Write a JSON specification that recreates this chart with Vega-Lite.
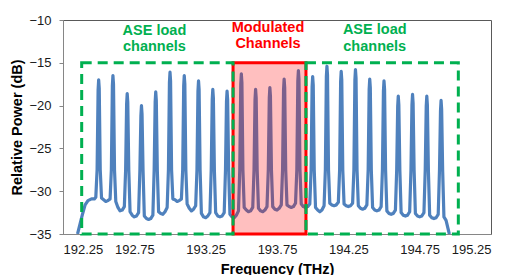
{
  "$schema": "https://vega.github.io/schema/vega-lite/v6.json",
  "width": 428,
  "height": 214,
  "autosize": {"type": "none"},
  "padding": {"left": 63, "top": 20, "right": 23, "bottom": 41},
  "background": "white",
  "config": {
    "font": "Liberation Sans",
    "view": {"stroke": "#595959", "strokeWidth": 1},
    "axis": {
      "grid": false,
      "domainColor": "#868686",
      "tickColor": "#868686",
      "labelFont": "Liberation Sans",
      "labelFontSize": 13,
      "labelColor": "#1a1a1a",
      "titleFont": "Liberation Sans",
      "titleFontSize": 14.5,
      "titleFontWeight": "bold",
      "titleColor": "#000000"
    }
  },
  "datasets": {
    "spectrum": [
      {"f":192.352,"p":-35.0},{"f":192.370,"p":-33.8},{"f":192.388,"p":-32.6},{"f":192.405,"p":-31.6},{"f":192.425,"p":-31.1},{"f":192.450,"p":-30.9},{"f":192.470,"p":-30.9},
      {"f":192.480,"p":-30.7},{"f":192.489,"p":-27.5},{"f":192.496,"p":-18.2},{"f":192.500,"p":-17.0},{"f":192.504,"p":-18.0},{"f":192.511,"p":-27.5},{"f":192.520,"p":-30.8},
      {"f":192.535,"p":-31.0},{"f":192.550,"p":-31.2},{"f":192.565,"p":-31.1},{"f":192.580,"p":-30.9},
      {"f":192.589,"p":-27.5},{"f":192.596,"p":-17.7},{"f":192.600,"p":-16.5},{"f":192.604,"p":-17.5},{"f":192.611,"p":-27.5},{"f":192.620,"p":-31.2},
      {"f":192.635,"p":-31.9},{"f":192.650,"p":-32.3},{"f":192.665,"p":-32.2},{"f":192.680,"p":-31.8},
      {"f":192.689,"p":-27.5},{"f":192.696,"p":-19.8},{"f":192.700,"p":-18.6},{"f":192.704,"p":-19.6},{"f":192.711,"p":-27.5},{"f":192.720,"p":-32.4},
      {"f":192.735,"p":-32.8},{"f":192.750,"p":-33.0},{"f":192.765,"p":-32.9},{"f":192.780,"p":-32.5},
      {"f":192.789,"p":-27.5},{"f":192.796,"p":-21.2},{"f":192.800,"p":-20.0},{"f":192.804,"p":-21.0},{"f":192.811,"p":-27.5},{"f":192.820,"p":-32.9},
      {"f":192.835,"p":-33.2},{"f":192.850,"p":-33.3},{"f":192.865,"p":-33.2},{"f":192.880,"p":-32.8},
      {"f":192.889,"p":-27.5},{"f":192.896,"p":-19.6},{"f":192.900,"p":-18.4},{"f":192.904,"p":-19.4},{"f":192.911,"p":-27.5},{"f":192.920,"p":-32.4},
      {"f":192.935,"p":-32.6},{"f":192.950,"p":-32.7},{"f":192.965,"p":-32.4},{"f":192.980,"p":-31.9},
      {"f":192.989,"p":-27.5},{"f":192.996,"p":-17.3},{"f":193.000,"p":-16.1},{"f":193.004,"p":-17.1},{"f":193.011,"p":-27.5},{"f":193.020,"p":-30.9},
      {"f":193.035,"p":-31.0},{"f":193.050,"p":-31.2},{"f":193.065,"p":-31.1},{"f":193.080,"p":-30.9},
      {"f":193.089,"p":-27.5},{"f":193.096,"p":-17.7},{"f":193.100,"p":-16.5},{"f":193.104,"p":-17.5},{"f":193.111,"p":-27.5},{"f":193.120,"p":-31.5},
      {"f":193.135,"p":-32.0},{"f":193.150,"p":-32.3},{"f":193.165,"p":-32.1},{"f":193.180,"p":-31.7},
      {"f":193.189,"p":-27.5},{"f":193.196,"p":-18.3},{"f":193.200,"p":-17.1},{"f":193.204,"p":-18.1},{"f":193.211,"p":-27.5},{"f":193.220,"p":-32.6},
      {"f":193.235,"p":-33.0},{"f":193.250,"p":-33.1},{"f":193.265,"p":-32.9},{"f":193.280,"p":-32.5},
      {"f":193.289,"p":-27.5},{"f":193.296,"p":-19.3},{"f":193.300,"p":-18.1},{"f":193.304,"p":-19.1},{"f":193.311,"p":-27.5},{"f":193.320,"p":-32.5},
      {"f":193.335,"p":-32.9},{"f":193.350,"p":-33.0},{"f":193.365,"p":-32.9},{"f":193.380,"p":-32.5},
      {"f":193.389,"p":-27.5},{"f":193.396,"p":-19.5},{"f":193.400,"p":-18.3},{"f":193.404,"p":-19.3},{"f":193.411,"p":-27.5},{"f":193.420,"p":-32.7},
      {"f":193.435,"p":-33.0},{"f":193.450,"p":-33.1},{"f":193.465,"p":-32.8},{"f":193.480,"p":-32.3},
      {"f":193.489,"p":-27.5},{"f":193.496,"p":-17.5},{"f":193.500,"p":-16.3},{"f":193.504,"p":-17.3},{"f":193.511,"p":-27.5},{"f":193.520,"p":-31.9},
      {"f":193.535,"p":-32.2},{"f":193.550,"p":-32.4},{"f":193.565,"p":-32.3},{"f":193.580,"p":-31.9},
      {"f":193.589,"p":-27.5},{"f":193.596,"p":-19.3},{"f":193.600,"p":-18.1},{"f":193.604,"p":-19.1},{"f":193.611,"p":-27.5},{"f":193.620,"p":-32.0},
      {"f":193.635,"p":-32.3},{"f":193.650,"p":-32.4},{"f":193.665,"p":-32.2},{"f":193.680,"p":-31.8},
      {"f":193.689,"p":-27.5},{"f":193.696,"p":-19.1},{"f":193.700,"p":-17.9},{"f":193.704,"p":-18.9},{"f":193.711,"p":-27.5},{"f":193.720,"p":-31.8},
      {"f":193.735,"p":-32.1},{"f":193.750,"p":-32.2},{"f":193.765,"p":-32.0},{"f":193.780,"p":-31.6},
      {"f":193.789,"p":-27.5},{"f":193.796,"p":-18.1},{"f":193.800,"p":-16.9},{"f":193.804,"p":-17.9},{"f":193.811,"p":-27.5},{"f":193.820,"p":-31.6},
      {"f":193.835,"p":-31.8},{"f":193.850,"p":-31.9},{"f":193.865,"p":-31.8},{"f":193.880,"p":-31.4},
      {"f":193.889,"p":-27.5},{"f":193.896,"p":-17.1},{"f":193.900,"p":-15.9},{"f":193.904,"p":-16.9},{"f":193.911,"p":-27.5},{"f":193.920,"p":-31.5},
      {"f":193.935,"p":-31.8},{"f":193.950,"p":-31.9},{"f":193.965,"p":-31.8},{"f":193.980,"p":-31.5},
      {"f":193.989,"p":-27.5},{"f":193.996,"p":-17.8},{"f":194.000,"p":-16.6},{"f":194.004,"p":-17.6},{"f":194.011,"p":-27.5},{"f":194.020,"p":-31.9},
      {"f":194.035,"p":-32.2},{"f":194.050,"p":-32.4},{"f":194.065,"p":-32.2},{"f":194.080,"p":-31.7},
      {"f":194.089,"p":-27.5},{"f":194.096,"p":-16.6},{"f":194.100,"p":-15.4},{"f":194.104,"p":-16.4},{"f":194.111,"p":-27.5},{"f":194.120,"p":-31.4},
      {"f":194.135,"p":-31.6},{"f":194.150,"p":-31.7},{"f":194.165,"p":-31.6},{"f":194.180,"p":-31.3},
      {"f":194.189,"p":-27.5},{"f":194.196,"p":-17.2},{"f":194.200,"p":-16.0},{"f":194.204,"p":-17.0},{"f":194.211,"p":-27.5},{"f":194.220,"p":-31.5},
      {"f":194.235,"p":-31.7},{"f":194.250,"p":-31.8},{"f":194.265,"p":-31.7},{"f":194.280,"p":-31.4},
      {"f":194.289,"p":-27.5},{"f":194.296,"p":-17.0},{"f":194.300,"p":-15.8},{"f":194.304,"p":-16.8},{"f":194.311,"p":-27.5},{"f":194.320,"p":-31.7},
      {"f":194.335,"p":-32.0},{"f":194.350,"p":-32.1},{"f":194.365,"p":-32.0},{"f":194.380,"p":-31.6},
      {"f":194.389,"p":-27.5},{"f":194.396,"p":-18.1},{"f":194.400,"p":-16.9},{"f":194.404,"p":-17.9},{"f":194.411,"p":-27.5},{"f":194.420,"p":-31.9},
      {"f":194.435,"p":-32.2},{"f":194.450,"p":-32.3},{"f":194.465,"p":-32.2},{"f":194.480,"p":-31.8},
      {"f":194.489,"p":-27.5},{"f":194.496,"p":-18.3},{"f":194.500,"p":-17.1},{"f":194.504,"p":-18.1},{"f":194.511,"p":-27.5},{"f":194.520,"p":-32.3},
      {"f":194.535,"p":-32.6},{"f":194.550,"p":-32.7},{"f":194.565,"p":-32.6},{"f":194.580,"p":-32.2},
      {"f":194.589,"p":-27.5},{"f":194.596,"p":-20.1},{"f":194.600,"p":-18.9},{"f":194.604,"p":-19.9},{"f":194.611,"p":-27.5},{"f":194.620,"p":-32.5},
      {"f":194.635,"p":-32.8},{"f":194.650,"p":-32.9},{"f":194.665,"p":-32.8},{"f":194.680,"p":-32.4},
      {"f":194.689,"p":-27.5},{"f":194.696,"p":-19.9},{"f":194.700,"p":-18.7},{"f":194.704,"p":-19.7},{"f":194.711,"p":-27.5},{"f":194.720,"p":-32.6},
      {"f":194.735,"p":-32.9},{"f":194.750,"p":-33.0},{"f":194.765,"p":-32.9},{"f":194.780,"p":-32.5},
      {"f":194.789,"p":-27.5},{"f":194.796,"p":-20.1},{"f":194.800,"p":-18.9},{"f":194.804,"p":-19.9},{"f":194.811,"p":-27.5},{"f":194.820,"p":-32.8},
      {"f":194.835,"p":-33.1},{"f":194.850,"p":-33.2},{"f":194.865,"p":-33.1},{"f":194.880,"p":-32.7},
      {"f":194.889,"p":-27.5},{"f":194.896,"p":-20.6},{"f":194.900,"p":-19.4},{"f":194.904,"p":-20.4},{"f":194.911,"p":-27.5},{"f":194.920,"p":-33.0},
      {"f":194.935,"p":-33.4},{"f":194.948,"p":-34.3},{"f":194.958,"p":-35.0}
    ],
    "redbox": [{"x1": 193.442, "x2": 193.953, "y1": -35, "y2": -15}],
    "greenbox": [
      {"x1": 192.381, "x2": 193.442, "y1": -35, "y2": -15},
      {"x1": 193.953, "x2": 195.021, "y1": -35, "y2": -15}
    ],
    "labels": [
      {"f": 192.891, "p": -11.29, "t": "ASE load", "g": "ase"},
      {"f": 192.891, "p": -13.15, "t": "channels", "g": "ase"},
      {"f": 193.687, "p": -10.97, "t": "Modulated", "g": "mod"},
      {"f": 193.687, "p": -12.80, "t": "Channels", "g": "mod"},
      {"f": 194.435, "p": -11.17, "t": "ASE load", "g": "ase"},
      {"f": 194.435, "p": -13.12, "t": "channels", "g": "ase"}
    ]
  },
  "layer": [
    {
      "data": {"name": "spectrum"},
      "mark": {"type": "line", "color": "#4F81BD", "strokeWidth": 3.2, "clip": true, "strokeJoin": "round"},
      "encoding": {
        "x": {
          "field": "f", "type": "quantitative",
          "scale": {"domain": [192.25, 195.25], "nice": false, "zero": false},
          "axis": {
            "title": "Frequency (THz)",
            "values": [192.25, 192.75, 193.25, 193.75, 194.25, 194.75, 195.25],
            "format": ".2f",
            "ticks": false,
            "labelPadding": 9,
            "titlePadding": 6
          }
        },
        "y": {
          "field": "p", "type": "quantitative",
          "scale": {"domain": [-35, -10], "nice": false, "zero": false},
          "axis": {
            "title": "Relative Power (dB)",
            "values": [-35, -30, -25, -20, -15, -10],
            "tickSize": 4,
            "labelPadding": 8,
            "titlePadding": 4
          }
        }
      }
    },
    {
      "data": {"name": "redbox"},
      "mark": {"type": "rect", "fill": "#FF0000", "fillOpacity": 0.25, "stroke": "#FF0000", "strokeWidth": 3, "strokeOpacity": 1},
      "encoding": {
        "x": {"field": "x1", "type": "quantitative"},
        "x2": {"field": "x2"},
        "y": {"field": "y1", "type": "quantitative"},
        "y2": {"field": "y2"}
      }
    },
    {
      "data": {"name": "greenbox"},
      "mark": {"type": "rect", "fill": null, "fillOpacity": 0, "stroke": "#00B050", "strokeWidth": 3, "strokeDash": [10, 6]},
      "encoding": {
        "x": {"field": "x1", "type": "quantitative"},
        "x2": {"field": "x2"},
        "y": {"field": "y1", "type": "quantitative"},
        "y2": {"field": "y2"}
      }
    },
    {
      "data": {"name": "labels"},
      "mark": {"type": "text", "font": "Liberation Sans", "fontSize": 14.5, "fontWeight": "bold", "align": "center", "baseline": "middle"},
      "encoding": {
        "x": {"field": "f", "type": "quantitative"},
        "y": {"field": "p", "type": "quantitative"},
        "text": {"field": "t"},
        "color": {
          "field": "g", "type": "nominal",
          "scale": {"domain": ["ase", "mod"], "range": ["#00B050", "#FF0000"]},
          "legend": null
        }
      }
    }
  ]
}
